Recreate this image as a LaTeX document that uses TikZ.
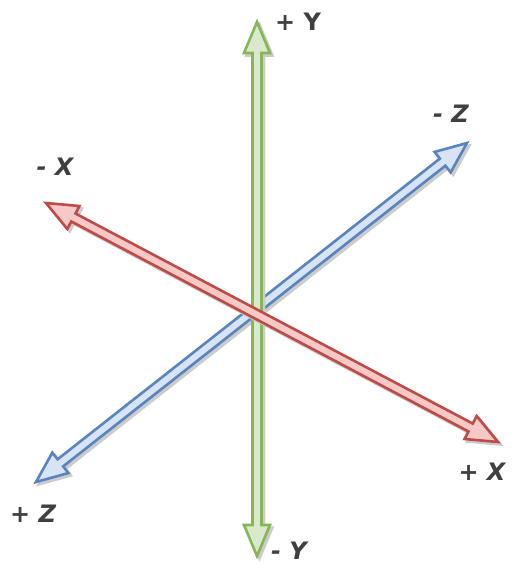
\documentclass[tikz,border=0pt]{standalone}
\usepackage{fontspec}
\setmainfont{DejaVu Sans}
\usetikzlibrary{calc}
\definecolor{gline}{HTML}{86B658}
\definecolor{gfill}{HTML}{D8EACB}
\definecolor{rline}{HTML}{BE4B48}
\definecolor{rfill}{HTML}{F6C8C6}
\definecolor{bline}{HTML}{5A84BE}
\definecolor{bfill}{HTML}{D6E4F6}
\definecolor{txt}{HTML}{404040}
\newcommand{\arrhl}{31pt}
\newcommand{\arrhw}{13pt}
\newcommand{\arrsw}{4.5pt}
\newcommand{\arrpoly}[3]{%
 \path[#3] (#1) -- ($(#1)!\arrhl!(#2)!\arrhw!90:(#2)$) -- ($(#1)!\arrhl!(#2)!\arrsw!90:(#2)$)
  -- ($(#2)!\arrhl!(#1)!\arrsw!-90:(#1)$) -- ($(#2)!\arrhl!(#1)!\arrhw!-90:(#1)$) -- (#2)
  -- ($(#2)!\arrhl!(#1)!\arrhw!90:(#1)$) -- ($(#2)!\arrhl!(#1)!\arrsw!90:(#1)$)
  -- ($(#1)!\arrhl!(#2)!\arrsw!-90:(#2)$) -- ($(#1)!\arrhl!(#2)!\arrhw!-90:(#2)$) -- cycle;}
\newcommand{\blockarr}[4]{%
 \arrpoly{#1}{#2}{draw=black!20, fill=black!20, line width=2.5pt, transform canvas={xshift=2.5pt,yshift=-2.5pt}}
 \arrpoly{#1}{#2}{draw=#3, fill=#4, line width=2.6pt}}
\tikzset{lab/.style={text=txt, font=\bfseries\itshape\fontsize{24}{28}\selectfont, inner sep=0pt}}
\begin{document}
\begin{tikzpicture}[x=1pt,y=-1pt]
\useasboundingbox[fill=white] (0,0) rectangle (513,576);
\coordinate (ytop) at (257,22);
\coordinate (ybot) at (257,556);
\coordinate (xneg) at (46,203);
\coordinate (xpos) at (498,442);
\coordinate (zneg) at (467,143);
\coordinate (zpos) at (36,482);
\blockarr{zpos}{zneg}{bline}{bfill}
\blockarr{ybot}{ytop}{gline}{gfill}
\blockarr{xneg}{xpos}{rline}{rfill}
\node[lab, font=\bfseries\fontsize{24}{28}\selectfont] (lyp) at (298,22) {+ Y};
\node[lab] (lyn) at (289,551) {- Y};
\node[lab] (lxn) at (55,167) {- X};
\node[lab] (lxp) at (482,472) {+ X};
\node[lab] (lzn) at (451,114) {- Z};
\node[lab] (lzp) at (33,514) {+ Z};
\end{tikzpicture}
\end{document}
